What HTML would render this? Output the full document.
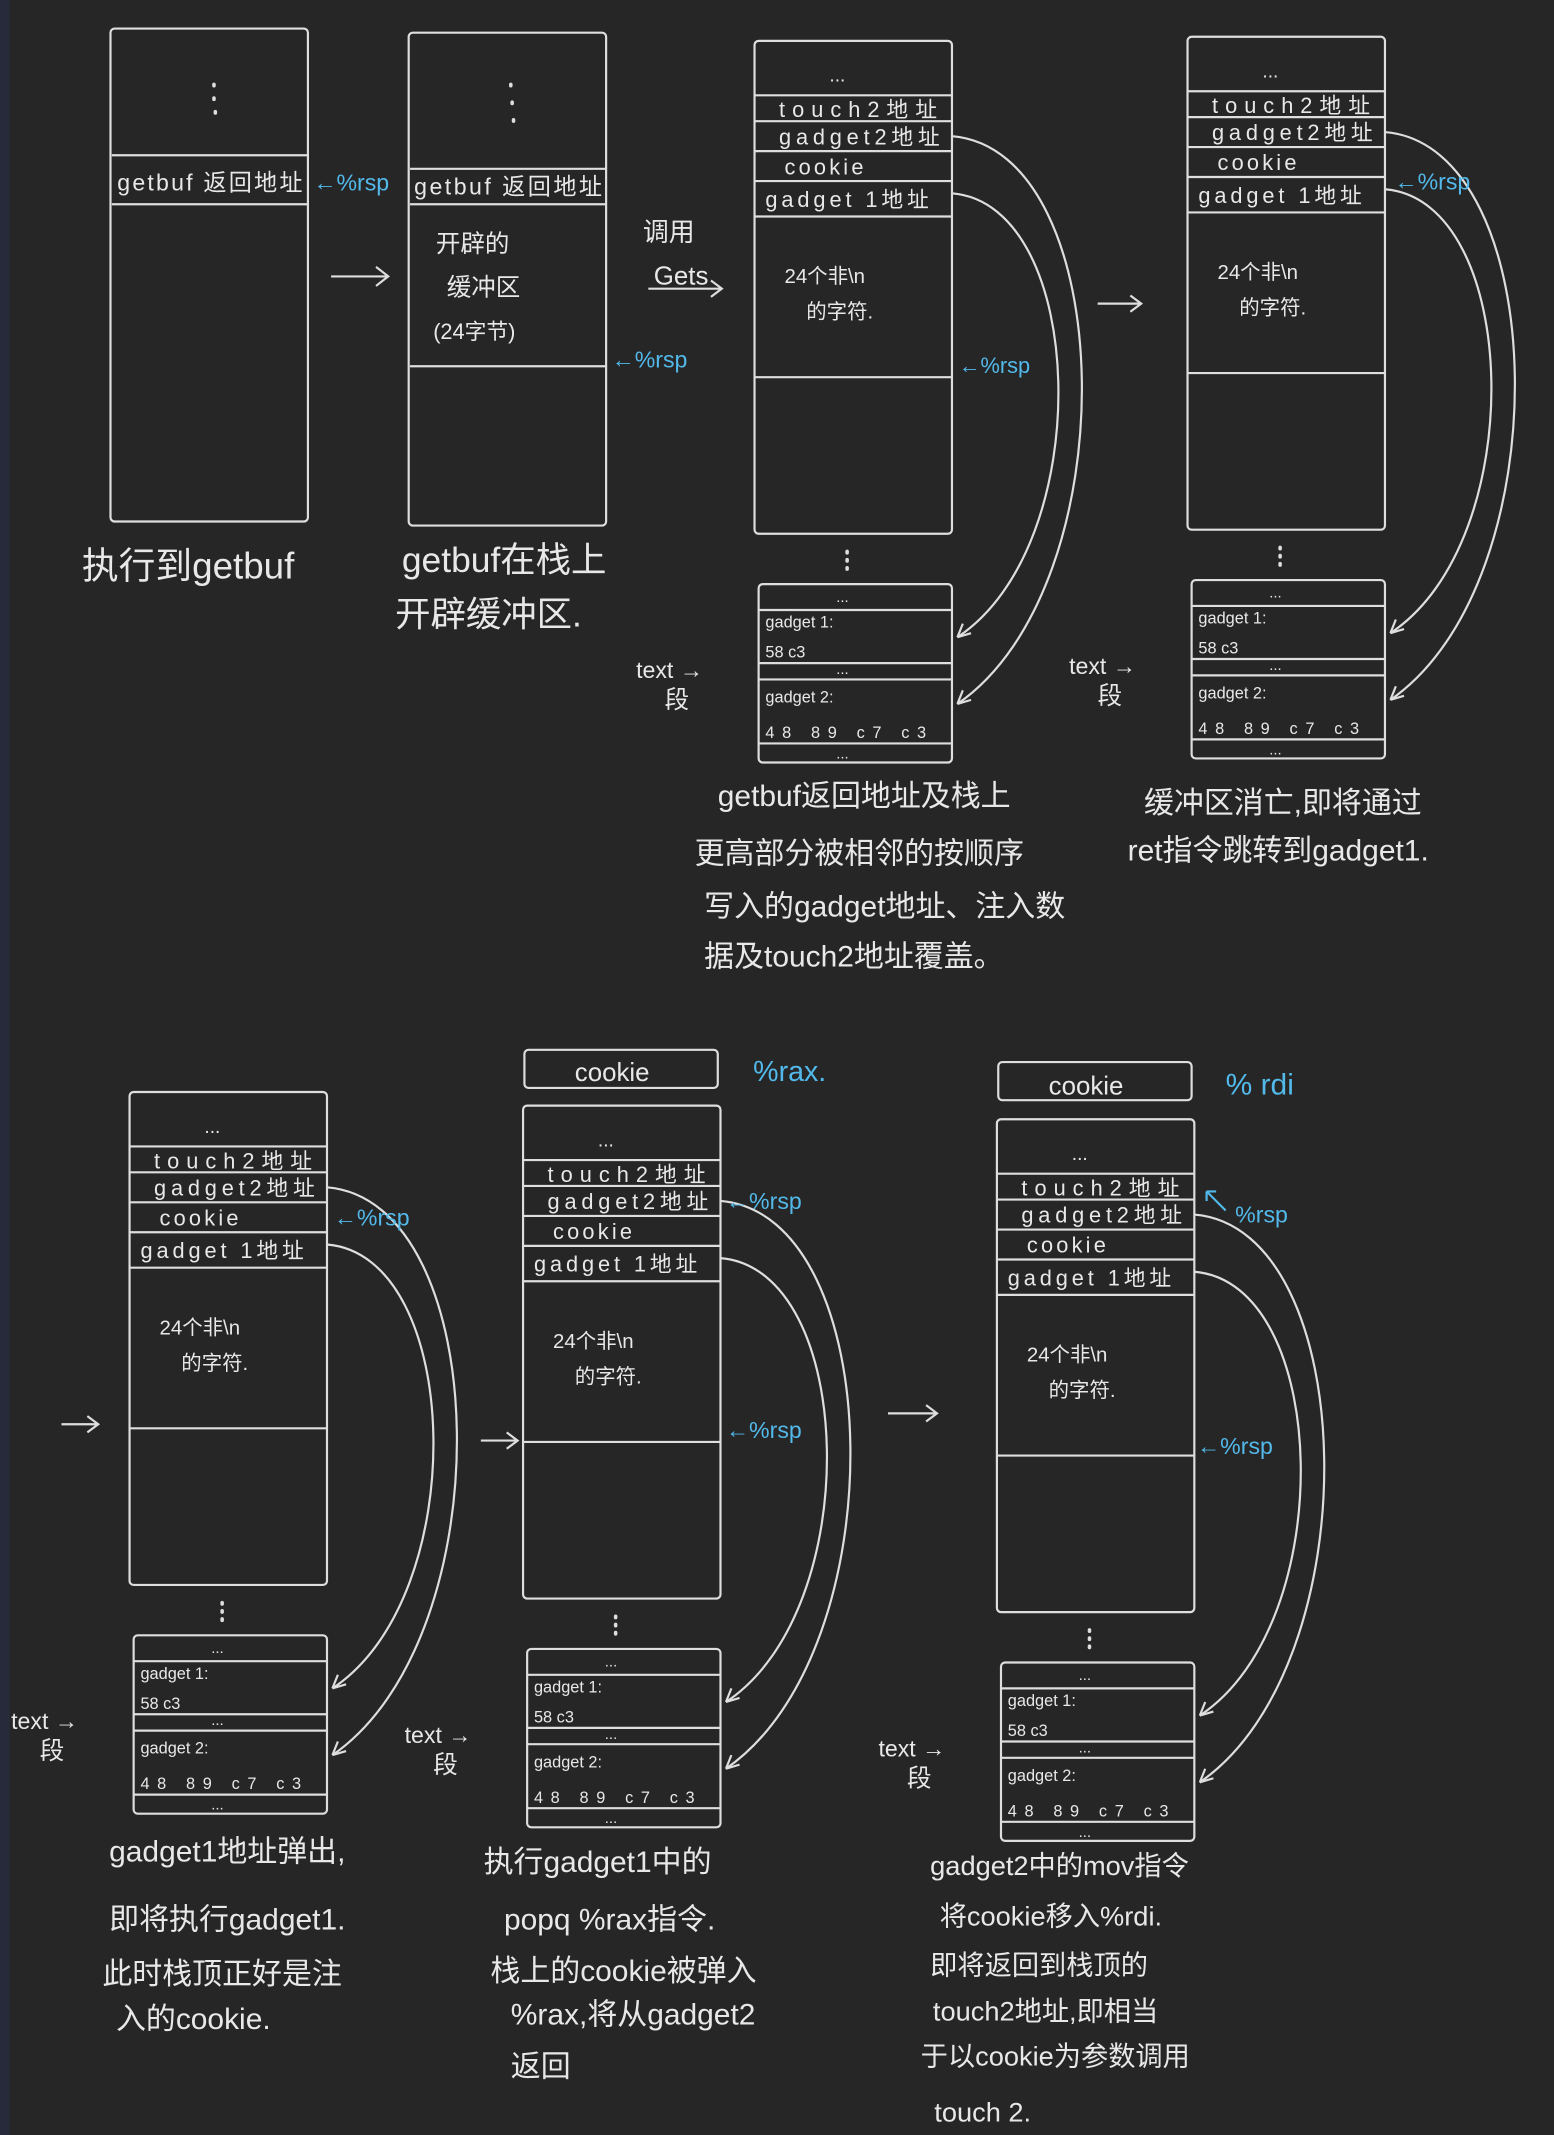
<!DOCTYPE html>
<html><head><meta charset="utf-8"><style>
html,body{margin:0;padding:0;background:#262626;}
svg{display:block}
text{font-family:"Liberation Sans","Noto Sans CJK SC",sans-serif;fill:#e8e8e8}
.b{fill:#52b9ea}
.s{stroke:#dedede;stroke-width:1.6;fill:none}
.d{stroke:#dedede;stroke-width:2.6;fill:none;stroke-linecap:round}
.bl{stroke:#52b9ea;stroke-width:1.6;fill:none}
</style></head><body>
<svg width="1554" height="2135" viewBox="0 0 1141 1568" xmlns="http://www.w3.org/2000/svg">
<rect x="0" y="0" width="1141" height="1568" fill="#262626"/>
<rect x="0" y="0" width="7" height="1568" fill="#252b3b"/>
<defs>
<g id="stk">
<rect class="s" x="0" y="0" width="145" height="362" rx="3"/>
<line class="s" x1="0" y1="40" x2="145" y2="40"/>
<line class="s" x1="0" y1="59" x2="145" y2="59"/>
<line class="s" x1="0" y1="81" x2="145" y2="81"/>
<line class="s" x1="0" y1="103" x2="145" y2="103"/>
<line class="s" x1="0" y1="129" x2="145" y2="129"/>
<line class="s" x1="0" y1="247" x2="145" y2="247"/>
<rect class="s" x="3" y="399" width="142" height="131" rx="3"/>
<line class="s" x1="3" y1="418" x2="145" y2="418"/>
<line class="s" x1="3" y1="457" x2="145" y2="457"/>
<line class="s" x1="3" y1="469" x2="145" y2="469"/>
<line class="s" x1="3" y1="516" x2="145" y2="516"/>
<path class="s" d="M145,70 C268,80 275,400 149,487"/>
<path class="s" d="M145,112 C245,120 252,370 149,438"/>
<path class="s" d="M149,487 l4,-10 M149,487 l10,-3"/>
<path class="s" d="M149,438 l4,-10 M149,438 l10,-3"/>
<path class="d" d="M68,375 v1 M68,381 v1 M68,387 v1"/>
</g>
</defs>

<!-- Panel A -->
<rect class="s" x="81" y="21" width="145" height="362" rx="3"/>
<line class="s" x1="82" y1="114" x2="226" y2="114"/>
<line class="s" x1="82" y1="150" x2="226" y2="150"/>
<path class="d" d="M157,62 v1 M157,72 v1 M158,82 v1"/>
<text x="86" y="140" font-size="17" textLength="136">getbuf 返回地址</text>
<text x="230" y="140" font-size="17" class="b">←%rsp</text>
<text x="60" y="425" font-size="27">执行到getbuf</text>

<path class="s" d="M243,203 h42 M276,196 l9,7 l-9,7"/>

<!-- Panel B -->
<rect class="s" x="300" y="24" width="145" height="362" rx="3"/>
<line class="s" x1="301" y1="124" x2="445" y2="124"/>
<line class="s" x1="301" y1="150" x2="445" y2="150"/>
<line class="s" x1="301" y1="269" x2="445" y2="269"/>
<path class="d" d="M375,62 v1 M376,75 v1 M377,88 v1"/>
<text x="304" y="143" font-size="17" textLength="138">getbuf 返回地址</text>
<text x="320" y="185" font-size="18">开辟的</text>
<text x="328" y="217" font-size="18">缓冲区</text>
<text x="318" y="249" font-size="16">(24字节)</text>
<text x="449" y="270" font-size="17" class="b">←%rsp</text>
<text x="295" y="420" font-size="26">getbuf在栈上</text>
<text x="290" y="460" font-size="26">开辟缓冲区.</text>

<text x="472" y="177" font-size="19">调用</text>
<text x="480" y="209" font-size="19">Gets</text>
<path class="s" d="M476,212 h54 M522,206 l8,6 l-8,6"/>

<!-- Panel C -->
<g transform="translate(554,30)">
<use href="#stk"/>
<text x="55" y="30" font-size="14">...</text>
<text x="18" y="56" font-size="16" textLength="116">touch2地址</text>
<text x="18" y="76" font-size="16" textLength="118">gadget2地址</text>
<text x="22" y="98" font-size="16" textLength="58">cookie</text>
<text x="8" y="122" font-size="16" textLength="120">gadget 1地址</text>
<text x="22" y="178" font-size="15">24个非\n</text>
<text x="38" y="204" font-size="15">的字符.</text>
<text x="150" y="244" font-size="16" class="b">←%rsp</text>
<text x="60" y="412" font-size="11">...</text>
<text x="8" y="431" font-size="12">gadget 1:</text>
<text x="8" y="453" font-size="12">58  c3</text>
<text x="60" y="465" font-size="11">...</text>
<text x="8" y="486" font-size="12">gadget 2:</text>
<text x="8" y="512" font-size="12" textLength="118">48  89  c7    c3</text>
<text x="60" y="527" font-size="11">...</text>
<text x="-87" y="468" font-size="17">text →</text>
<text x="-66" y="490" font-size="18">段</text>
</g>
<text x="527" y="592" font-size="22">getbuf返回地址及栈上</text>
<text x="510" y="634" font-size="22">更高部分被相邻的按顺序</text>
<text x="517" y="673" font-size="22">写入的gadget地址、注入数</text>
<text x="517" y="710" font-size="22">据及touch2地址覆盖。</text>

<path class="s" d="M806,223 h32 M830,217 l8,6 l-8,6"/>

<!-- Panel D -->
<g transform="translate(872,27)">
<use href="#stk"/>
<text x="55" y="30" font-size="14">...</text>
<text x="18" y="56" font-size="16" textLength="116">touch2地址</text>
<text x="18" y="76" font-size="16" textLength="118">gadget2地址</text>
<text x="22" y="98" font-size="16" textLength="58">cookie</text>
<text x="8" y="122" font-size="16" textLength="120">gadget 1地址</text>
<text x="22" y="178" font-size="15">24个非\n</text>
<text x="38" y="204" font-size="15">的字符.</text>
<text x="152" y="112" font-size="17" class="b">←%rsp</text>
<text x="60" y="412" font-size="11">...</text>
<text x="8" y="431" font-size="12">gadget 1:</text>
<text x="8" y="453" font-size="12">58  c3</text>
<text x="60" y="465" font-size="11">...</text>
<text x="8" y="486" font-size="12">gadget 2:</text>
<text x="8" y="512" font-size="12" textLength="118">48  89  c7    c3</text>
<text x="60" y="527" font-size="11">...</text>
<text x="-87" y="468" font-size="17">text →</text>
<text x="-66" y="490" font-size="18">段</text>
</g>
<text x="840" y="597" font-size="22">缓冲区消亡,即将通过</text>
<text x="828" y="632" font-size="22">ret指令跳转到gadget1.</text>

<!-- Panel E -->
<path class="s" d="M45,1046 h27 M64,1040 l8,6 l-8,6"/>
<g transform="translate(95,802)">
<use href="#stk"/>
<text x="55" y="30" font-size="14">...</text>
<text x="18" y="56" font-size="16" textLength="116">touch2地址</text>
<text x="18" y="76" font-size="16" textLength="118">gadget2地址</text>
<text x="22" y="98" font-size="16" textLength="58">cookie</text>
<text x="8" y="122" font-size="16" textLength="120">gadget 1地址</text>
<text x="22" y="178" font-size="15">24个非\n</text>
<text x="38" y="204" font-size="15">的字符.</text>
<text x="150" y="98" font-size="17" class="b">←%rsp</text>
<text x="60" y="412" font-size="11">...</text>
<text x="8" y="431" font-size="12">gadget 1:</text>
<text x="8" y="453" font-size="12">58  c3</text>
<text x="60" y="465" font-size="11">...</text>
<text x="8" y="486" font-size="12">gadget 2:</text>
<text x="8" y="512" font-size="12" textLength="118">48  89  c7    c3</text>
<text x="60" y="527" font-size="11">...</text>
<text x="-87" y="468" font-size="17">text →</text>
<text x="-66" y="490" font-size="18">段</text>
</g>
<text x="80" y="1367" font-size="22">gadget1地址弹出,</text>
<text x="80" y="1417" font-size="22">即将执行gadget1.</text>
<text x="75" y="1457" font-size="22">此时栈顶正好是注</text>
<text x="85" y="1490" font-size="22">入的cookie.</text>

<!-- Panel F -->
<path class="s" d="M353,1058 h27 M372,1052 l8,6 l-8,6"/>
<rect class="s" x="385" y="771" width="142" height="28" rx="3"/>
<text x="422" y="794" font-size="19">cookie</text>
<text x="553" y="794" font-size="21" class="b">%rax.</text>
<g transform="translate(384,812)">
<use href="#stk"/>
<text x="55" y="30" font-size="14">...</text>
<text x="18" y="56" font-size="16" textLength="116">touch2地址</text>
<text x="18" y="76" font-size="16" textLength="118">gadget2地址</text>
<text x="22" y="98" font-size="16" textLength="58">cookie</text>
<text x="8" y="122" font-size="16" textLength="120">gadget 1地址</text>
<text x="22" y="178" font-size="15">24个非\n</text>
<text x="38" y="204" font-size="15">的字符.</text>
<text x="149" y="76" font-size="17" class="b">←%rsp</text>
<text x="149" y="244" font-size="17" class="b">←%rsp</text>
<text x="60" y="412" font-size="11">...</text>
<text x="8" y="431" font-size="12">gadget 1:</text>
<text x="8" y="453" font-size="12">58  c3</text>
<text x="60" y="465" font-size="11">...</text>
<text x="8" y="486" font-size="12">gadget 2:</text>
<text x="8" y="512" font-size="12" textLength="118">48  89  c7    c3</text>
<text x="60" y="527" font-size="11">...</text>
<text x="-87" y="468" font-size="17">text →</text>
<text x="-66" y="490" font-size="18">段</text>
</g>
<text x="355" y="1375" font-size="22">执行gadget1中的</text>
<text x="370" y="1417" font-size="22">popq  %rax指令.</text>
<text x="360" y="1455" font-size="22">栈上的cookie被弹入</text>
<text x="375" y="1487" font-size="22">%rax,将从gadget2</text>
<text x="375" y="1525" font-size="22">返回</text>

<!-- Panel G -->
<path class="s" d="M652,1038 h36 M680,1032 l8,6 l-8,6"/>
<rect class="s" x="733" y="780" width="142" height="28" rx="3"/>
<text x="770" y="804" font-size="19">cookie</text>
<text x="900" y="804" font-size="22" class="b">% rdi</text>
<g transform="translate(732,822)">
<use href="#stk"/>
<text x="55" y="30" font-size="14">...</text>
<text x="18" y="56" font-size="16" textLength="116">touch2地址</text>
<text x="18" y="76" font-size="16" textLength="118">gadget2地址</text>
<text x="22" y="98" font-size="16" textLength="58">cookie</text>
<text x="8" y="122" font-size="16" textLength="120">gadget 1地址</text>
<text x="22" y="178" font-size="15">24个非\n</text>
<text x="38" y="204" font-size="15">的字符.</text>
<path class="bl" d="M168,67 l-14,-14 M154,53 l0,7 M154,53 l7,0"/>
<text x="175" y="76" font-size="17" class="b">%rsp</text>
<text x="147" y="246" font-size="17" class="b">←%rsp</text>
<text x="60" y="412" font-size="11">...</text>
<text x="8" y="431" font-size="12">gadget 1:</text>
<text x="8" y="453" font-size="12">58  c3</text>
<text x="60" y="465" font-size="11">...</text>
<text x="8" y="486" font-size="12">gadget 2:</text>
<text x="8" y="512" font-size="12" textLength="118">48  89  c7    c3</text>
<text x="60" y="527" font-size="11">...</text>
<text x="-87" y="468" font-size="17">text →</text>
<text x="-66" y="490" font-size="18">段</text>
</g>
<text x="683" y="1377" font-size="20">gadget2中的mov指令</text>
<text x="690" y="1414" font-size="20">将cookie移入%rdi.</text>
<text x="683" y="1450" font-size="20">即将返回到栈顶的</text>
<text x="685" y="1484" font-size="20">touch2地址,即相当</text>
<text x="676" y="1517" font-size="20">于以cookie为参数调用</text>
<text x="686" y="1558" font-size="20">touch 2.</text>
</svg>
</body></html>
